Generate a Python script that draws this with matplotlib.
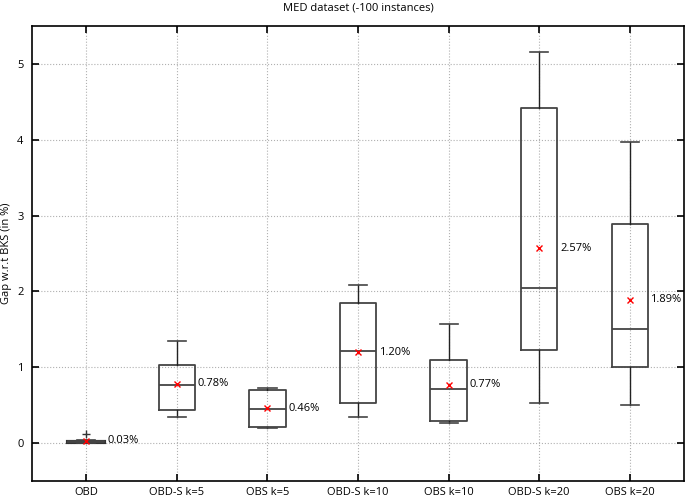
import numpy as np
import matplotlib.pyplot as plt

plt.rcParams['font.family'] = ['Open Sans', 'DejaVu Sans']

# box statistics (gap in %)
labels = ['OBD', 'OBD-S k=5', 'OBS k=5', 'OBD-S k=10', 'OBS k=10', 'OBD-S k=20', 'OBS k=20']
whislo = [0.00, 0.35, 0.20, 0.345, 0.27, 0.525, 0.50]
q1 = [0.01, 0.43, 0.21, 0.525, 0.29, 1.23, 1.00]
med = [0.02, 0.77, 0.455, 1.21, 0.71, 2.045, 1.50]
q3 = [0.03, 1.025, 0.705, 1.85, 1.09, 4.42, 2.885]
whishi = [0.04, 1.34, 0.73, 2.09, 1.57, 5.16, 3.975]
means = [0.03, 0.78, 0.46, 1.20, 0.77, 2.57, 1.89]
fliers = [[0.12], [], [], [], [], [], []]

stats = []
for i in range(len(labels)):
    stats.append(dict(label=labels[i], whislo=whislo[i], q1=q1[i], med=med[i],
                      q3=q3[i], whishi=whishi[i], mean=means[i], fliers=fliers[i]))

fig = plt.figure(figsize=(6.85, 5.01), dpi=100)
ax = fig.add_axes([32 / 685, 20 / 501, 652 / 685, 455 / 501])

pos = np.arange(1, len(labels) + 1)
ax.bxp(stats, positions=pos, widths=0.4, showmeans=True,
       boxprops=dict(color='#444444', linewidth=1.3),
       whiskerprops=dict(color='#222222', linewidth=1.0),
       capprops=dict(color='#444444', linewidth=1.2),
       medianprops=dict(color='#444444', linewidth=1.3),
       meanprops=dict(marker='x', markeredgecolor='red', markersize=5, markeredgewidth=1.0),
       flierprops=dict(marker='+', markeredgecolor='#333333', markersize=6))

# thick box for OBD (almost flat)
ax.plot([pos[0] - 0.2, pos[0] + 0.2], [0.02, 0.02], color='#333333', linewidth=3, zorder=1.5)

for i in range(len(labels)):
    ax.text(pos[i] + 0.23, means[i], '%.2f%%' % means[i], fontsize=8,
            va='center', ha='left')

ax.set_xlim(0.4, 7.6)
ax.set_ylim(-0.5, 5.5)
ax.set_yticks([0, 1, 2, 3, 4, 5])
ax.set_xticks(pos)
ax.set_xticklabels(labels)
ax.tick_params(direction='in', length=5, width=1.2, top=True, right=True,
               labelsize=8, pad=4)
ax.tick_params(axis='y', pad=6)
ax.grid(True, linestyle=':', color='#b0b0b0', linewidth=0.8)
ax.set_axisbelow(True)
for s in ax.spines.values():
    s.set_linewidth(1.2)

ax.set_ylabel('Gap w.r.t BKS (in %)', fontsize=8, labelpad=4)
fig.text(0.5225, 0.995, 'MED dataset (-100 instances)', fontsize=8, ha='center', va='top')

fig.savefig('out.png', dpi=100)
